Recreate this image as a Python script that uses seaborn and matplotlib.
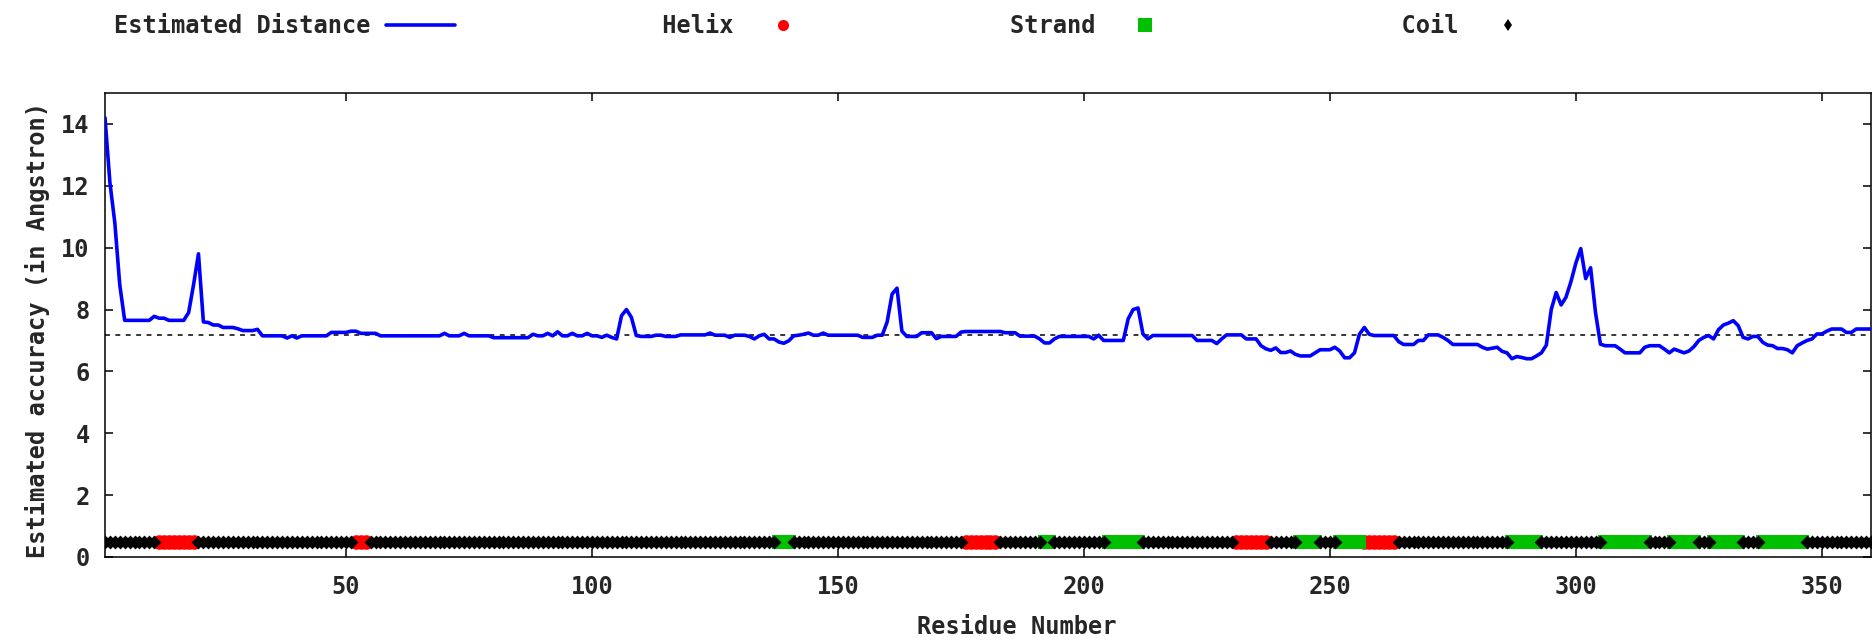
import numpy as np
import pandas as pd
import matplotlib
matplotlib.use("Agg")
import matplotlib.pyplot as plt
import seaborn as sns
from matplotlib.lines import Line2D

# ---------------- data ----------------
distance = [
    14.2, 12.1, 10.8, 8.8, 7.65, 7.65, 7.65, 7.65, 7.65, 7.65,
    7.78, 7.72, 7.72, 7.65, 7.65, 7.65, 7.65, 7.9, 8.8, 9.8,
    7.6, 7.58, 7.5, 7.5, 7.42, 7.42, 7.42, 7.38, 7.32, 7.32,
    7.32, 7.36, 7.15, 7.15, 7.15, 7.15, 7.15, 7.08, 7.15, 7.08,
    7.15, 7.15, 7.15, 7.15, 7.15, 7.15, 7.26, 7.26, 7.26, 7.26,
    7.3, 7.3, 7.23, 7.23, 7.23, 7.23, 7.15, 7.15, 7.15, 7.15,
    7.15, 7.15, 7.15, 7.15, 7.15, 7.15, 7.15, 7.15, 7.15, 7.23,
    7.15, 7.15, 7.15, 7.23, 7.15, 7.15, 7.15, 7.15, 7.15, 7.09,
    7.09, 7.09, 7.09, 7.09, 7.09, 7.09, 7.09, 7.2, 7.15, 7.15,
    7.23, 7.15, 7.28, 7.15, 7.15, 7.23, 7.15, 7.15, 7.23, 7.15,
    7.15, 7.1, 7.17, 7.1, 7.05, 7.8, 8.0, 7.75, 7.16, 7.13,
    7.13, 7.13, 7.17, 7.17, 7.13, 7.13, 7.13, 7.18, 7.18, 7.18,
    7.18, 7.18, 7.18, 7.24, 7.17, 7.17, 7.17, 7.1, 7.17, 7.17,
    7.17, 7.13, 7.05, 7.15, 7.2, 7.05, 7.05, 6.95, 6.91, 6.99,
    7.15, 7.17, 7.2, 7.24, 7.17, 7.17, 7.24, 7.17, 7.17, 7.17,
    7.17, 7.17, 7.17, 7.17, 7.1, 7.1, 7.1, 7.17, 7.17, 7.6,
    8.5, 8.69, 7.3, 7.13, 7.13, 7.13, 7.25, 7.25, 7.25, 7.06,
    7.13, 7.13, 7.13, 7.13, 7.27, 7.29, 7.29, 7.29, 7.29, 7.29,
    7.29, 7.29, 7.29, 7.25, 7.25, 7.25, 7.14, 7.14, 7.14, 7.14,
    7.05, 6.92, 6.92, 7.05, 7.13, 7.13, 7.13, 7.13, 7.13, 7.13,
    7.13, 7.05, 7.17, 7.0, 7.0, 7.0, 7.0, 7.0, 7.7, 8.0,
    8.05, 7.21, 7.05, 7.16, 7.16, 7.16, 7.16, 7.16, 7.16, 7.16,
    7.16, 7.16, 7.0, 7.0, 7.0, 7.0, 6.9, 7.05, 7.18, 7.18,
    7.18, 7.18, 7.05, 7.05, 7.05, 6.83, 6.73, 6.68, 6.76, 6.61,
    6.61, 6.66, 6.55, 6.5, 6.5, 6.5, 6.6, 6.7, 6.7, 6.7,
    6.78, 6.66, 6.44, 6.44, 6.6, 7.2, 7.42, 7.2, 7.16, 7.16,
    7.16, 7.16, 7.16, 6.96, 6.87, 6.87, 6.87, 7.0, 7.0, 7.18,
    7.18, 7.18, 7.1, 7.0, 6.87, 6.87, 6.87, 6.87, 6.87, 6.87,
    6.78, 6.72, 6.75, 6.78, 6.65, 6.6, 6.41, 6.48, 6.45, 6.41,
    6.41, 6.5, 6.6, 6.85, 8.0, 8.55, 8.15, 8.4, 8.9, 9.5,
    9.97, 9.0, 9.35, 7.9, 6.88, 6.83, 6.83, 6.83, 6.72, 6.6,
    6.6, 6.6, 6.6, 6.78, 6.83, 6.83, 6.83, 6.72, 6.6, 6.72,
    6.66, 6.6, 6.66, 6.8, 7.0, 7.1, 7.16, 7.05, 7.35, 7.5,
    7.56, 7.64, 7.48, 7.1, 7.05, 7.13, 7.13, 6.94, 6.85, 6.83,
    6.74, 6.74, 6.7, 6.6, 6.83, 6.92, 7.0, 7.05, 7.21, 7.21,
    7.3, 7.37, 7.37, 7.37, 7.26, 7.26, 7.37, 7.37, 7.37, 7.37,
]
helix_segments = [(12, 19), (52, 54), (176, 182), (231, 237), (257, 263)]
strand_segments = [(138, 140), (192, 193), (205, 211), (244, 247), (252, 256),
                   (287, 292), (306, 314), (320, 324), (328, 333), (338, 346)]
mean_distance = 7.18
ss_level = 0.5
x_ticks = [50, 100, 150, 200, 250, 300, 350]
y_ticks = [0, 2, 4, 6, 8, 10, 12, 14]
series_labels = ["Estimated Distance", "Helix", "Strand", "Coil"]
xlabel = "Residue Number"
ylabel = "Estimated accuracy (in Angstron)"

# ---------------- build tables ----------------
residues = np.arange(1, len(distance) + 1)
ss = np.array(["Coil"] * len(distance), dtype=object)
for s, e in helix_segments:
    ss[s - 1:e] = "Helix"
for s, e in strand_segments:
    ss[s - 1:e] = "Strand"
df = pd.DataFrame({"residue": residues, "distance": distance, "ss": ss,
                   "level": ss_level, "mean": mean_distance})

# ---------------- style ----------------
sns.set_theme(style="white")
plt.rcParams["font.family"] = ["DejaVu Sans Mono"]
plt.rcParams["font.weight"] = "bold"
plt.rcParams["axes.labelweight"] = "bold"
FS = 17

BLUE = "#0000FF"
RED = "#FF0000"
GREEN = "#00C000"

fig = plt.figure(figsize=(18.75, 6.42), dpi=100)
fig.patch.set_facecolor("white")
W, H = 1875, 642
ax = fig.add_axes([105 / W, 85 / H, 1766 / W, 464 / H])

# mean line
sns.lineplot(data=df, x="residue", y="mean", ax=ax, color="black",
             linewidth=1.1, dashes=False, legend=False)
ax.lines[-1].set_dashes((3.2, 3.6))

# secondary structure markers
sns.scatterplot(data=df[df.ss == "Helix"], x="residue", y="level", ax=ax,
                marker="o", s=110, color=RED, linewidth=0, legend=False, zorder=3)
sns.scatterplot(data=df[df.ss == "Strand"], x="residue", y="level", ax=ax,
                marker="s", s=115, color=GREEN, linewidth=0, legend=False, zorder=3)
sns.scatterplot(data=df[df.ss == "Coil"], x="residue", y="level", ax=ax,
                marker="D", s=50, color="black", linewidth=0, legend=False, zorder=4)

# distance line
sns.lineplot(data=df, x="residue", y="distance", ax=ax, color=BLUE,
             linewidth=2.6, legend=False, zorder=5)

ax.set_xlim(1, 360)
ax.set_ylim(0, 15)
ax.set_xticks(x_ticks)
ax.set_yticks(y_ticks)
ax.set_xticklabels([str(t) for t in x_ticks], fontsize=FS, fontweight="bold")
ax.set_yticklabels([str(t) for t in y_ticks], fontsize=FS, fontweight="bold")
ax.tick_params(axis="both", which="major", direction="in", length=6, width=1.1,
               color="black", top=True, right=True, bottom=True, left=True)
ax.tick_params(axis="y", pad=11)
ax.tick_params(axis="x", pad=13)
for sp in ax.spines.values():
    sp.set_visible(True)
    sp.set_color("black")
    sp.set_linewidth(1.1)
ax.grid(False)

ax.set_xlabel(xlabel, fontsize=FS, fontweight="bold")
ax.set_ylabel(ylabel, fontsize=FS, fontweight="bold")
ax.xaxis.set_label_coords(0.516, -0.125)
ax.yaxis.set_label_coords(-0.031, 0.49)

# legend (gnuplot-style: text right-justified, sample to the right)
handles = [
    Line2D([], [], color=BLUE, linewidth=2.6),
    Line2D([], [], marker="o", linestyle="none", color=RED, markersize=8, markeredgewidth=0),
    Line2D([], [], marker="s", linestyle="none", color=GREEN, markersize=10, markeredgewidth=0),
    Line2D([], [], marker="d", linestyle="none", color="black", markersize=6, markeredgewidth=0),
]
labels = [lab.rjust(18) for lab in series_labels]
fs_px = FS * 100 / 72
fig.legend(handles, labels, loc="center left",
           bbox_to_anchor=((370 - 18 * 0.602 * fs_px) / W, 1 - 26 / H),
           ncol=4, frameon=False, markerfirst=False,
           handlelength=69 / fs_px, handletextpad=15 / fs_px,
           columnspacing=(278 - 18 * 0.602 * fs_px) / fs_px,
           borderpad=0, borderaxespad=0,
           prop={"family": "DejaVu Sans Mono", "weight": "bold", "size": FS})

fig.savefig("out.png", dpi=100, facecolor="white")
